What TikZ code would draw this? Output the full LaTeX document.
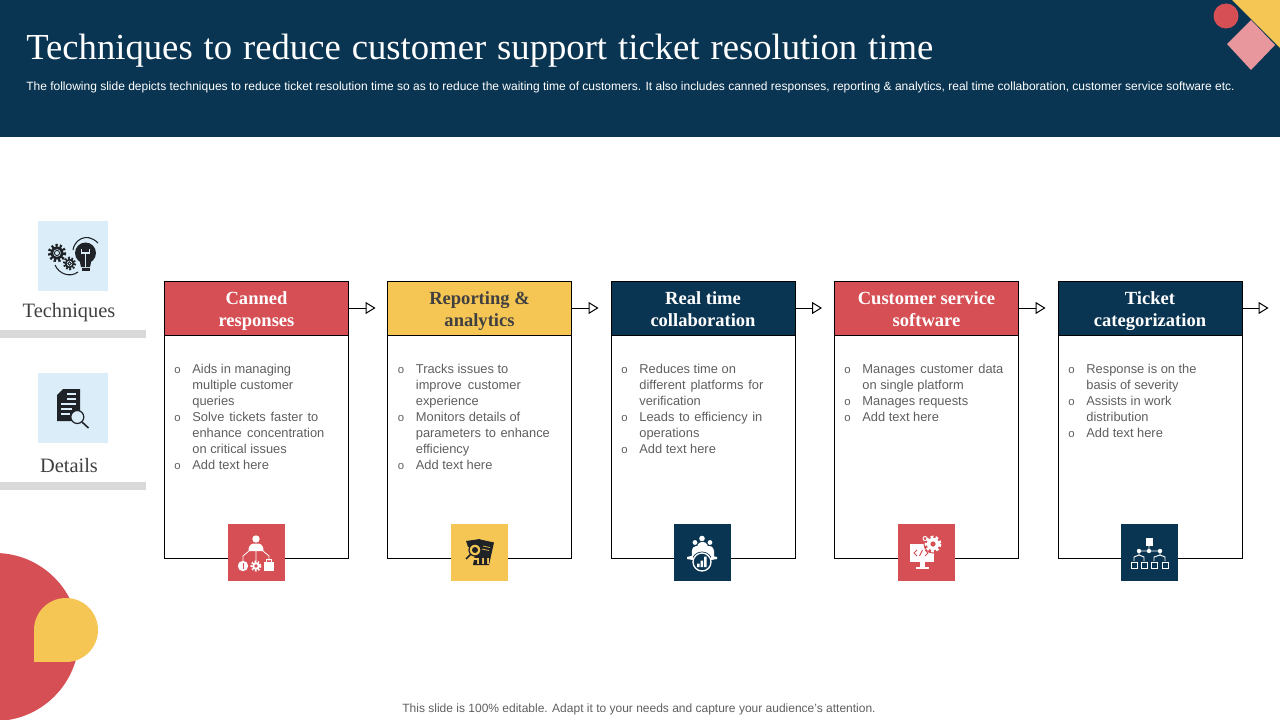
\documentclass[tikz,border=0pt]{standalone}
\usepackage{fontspec}
\setmainfont{Liberation Serif}
\setsansfont{Liberation Sans}
\usetikzlibrary{arrows.meta,positioning}
\definecolor{navy}{HTML}{0A3552}
\definecolor{cred}{HTML}{D64F55}
\definecolor{cyel}{HTML}{F6C655}
\definecolor{cpink}{HTML}{E8979D}
\definecolor{cblue}{HTML}{DAEDF9}
\definecolor{cbar}{HTML}{D9D9D9}
\definecolor{ctxt}{HTML}{5F5F5F}
\definecolor{cdark}{HTML}{404040}
\definecolor{cink}{HTML}{1F2328}
\newcommand\bitem[1]{\makebox[13.6pt][l]{\fontsize{8.5}{8.5}\selectfont o}#1\\}
\newcommand\bcont[1]{\hspace*{13.6pt}#1\\}
\newcommand\jl[2]{\makebox[\dimexpr #1pt*3/4\relax][s]{#2}}
\newcommand\twol[2]{\rule{0pt}{\dimexpr\ht\strutbox+4.5pt\relax}\strut #1\\\strut #2}
\tikzset{
  cardbox/.style={draw=black,line width=0.75pt,fill=white,minimum width=138pt,minimum height=207.75pt,anchor=north west,inner sep=0pt,outer sep=0pt},
  cardhead/.style={draw=black,line width=0.75pt,minimum width=138pt,minimum height=40.5pt,anchor=north west,inner sep=0pt,outer sep=0pt,text=white,align=center,font=\bfseries\fontsize{13.9}{16.5}\selectfont},
  bodytext/.style={anchor=north west,inner sep=0pt,align=left,text=ctxt,font=\sffamily\fontsize{9.65}{12}\selectfont},
  iconbox/.style={minimum size=42.75pt,inner sep=0pt,outer sep=0pt,anchor=center},
  sidebox/.style={fill=cblue,minimum width=52.5pt,minimum height=52.8pt,inner sep=0pt,outer sep=0pt,anchor=north west},
  sidelabel/.style={text=cdark,inner sep=0pt,font=\fontsize{15.3}{18}\selectfont},
  sidebar/.style={fill=cbar,minimum width=109.5pt,minimum height=6pt,inner sep=0pt,outer sep=0pt,anchor=north west},
  flow/.style={draw=black,line width=0.75pt,-{Triangle[open,length=7.5pt,width=9pt,fill=white]}}
}
\begin{document}
\begin{tikzpicture}[x=0.75pt,y=-0.75pt]
\useasboundingbox (0,0) rectangle (1280,720);
% header band
\fill[navy] (0,0) rectangle (1280,137);
\fill[cyel] (1232,0) -- (1280,48) -- (1280,0) -- cycle;
\fill[cpink] (1251,20) -- (1275,45) -- (1251,70) -- (1227,44) -- cycle;
\fill[cred] (1226,16) circle (12.5);
\node[anchor=west,inner sep=0pt,text=white,font=\fontsize{27.5}{32}\selectfont] (title) at (26,51) {\jl{907}{Techniques to reduce customer support ticket resolution time}};
\node[anchor=west,inner sep=0pt,text=white,font=\sffamily\fontsize{9}{11}\selectfont] (subtitle) at (26,87) {The following slide depicts techniques to reduce ticket resolution time so as to reduce the waiting time of customers. It also includes canned responses, reporting \& analytics, real time collaboration, customer service software etc.};
% bottom-left decoration
\begin{scope}
\clip (0,540) rectangle (120,720);
\fill[cred] (-5,637) circle (84);
\end{scope}
\fill[cyel] (66,630) circle (32);
\fill[cyel] (34,630) rectangle (66,662);
% side panel
\node[sidebox] (s1) at (38,221) {};
\node[sidelabel] (l1) at (69,313) {Techniques};
\node[sidebar] (b1) at (0,330) {};
\node[sidebox] (s2) at (38,373) {};
\node[sidelabel] (l2) at (69,465.5) {Details};
\node[sidebar] (b2) at (0,482) {};
% icon: gears and bulb
\begin{scope}[cink]
\fill (57,253) circle (6.5);
\draw[line width=2.4pt,dash pattern=on 1.6pt off 1.6pt] (57,253) circle (7.6);
\fill[cblue] (57,253) circle (3.8);
\draw[line width=.7pt] (57,253) circle (2.6);
\fill (69.5,263.5) circle (4.7);
\draw[line width=1.8pt,dash pattern=on 1.3pt off 1.3pt] (69.5,263.5) circle (5.6);
\fill[cblue] (69.5,263.5) circle (2.8);
\draw[line width=.7pt] (69.5,263.5) circle (1.8);
\fill (85.5,253) circle (10.5);
\fill (79,258) -- (92,258) -- (90,267) -- (81,267) -- cycle;
\fill (81.5,268) rectangle (89.5,271);
\draw[cblue,line width=1pt] (85.5,267) -- (85.5,254) (81.5,249) -- (81.5,253) -- (89.5,253) -- (89.5,249);
\draw[line width=.8pt] (73,250) .. controls (74,241) and (86,231) .. (98,243);
\draw[line width=.8pt] (55,265) .. controls (59,274) and (70,278) .. (78,272);
% icon: document and magnifier
\fill (63,389) -- (80,389) -- (80,421) -- (57,421) -- (57,395) -- cycle;
\draw[cblue,line width=1pt] (67,394) -- (76,394) (67,399) -- (76,399) (61,404) -- (76,404) (61,409) -- (72,409) (61,414) -- (70,414);
\fill[cblue] (77.3,417) circle (6.5);
\draw[line width=.9pt] (77.3,417) circle (6.5);
\draw[line width=1.2pt] (82,422) -- (88.5,428);
\end{scope}
% cards
\node[cardbox] (c1) at (164.5,281) {};
\node[cardbox] (c2) at (387.5,281) {};
\node[cardbox] (c3) at (611,281) {};
\node[cardbox] (c4) at (834.5,281) {};
\node[cardbox] (c5) at (1058,281) {};
\node[cardhead,fill=cred] (h1) at (164.5,281) {\twol{Canned}{responses}};
\node[cardhead,fill=cyel,text=cdark] (h2) at (387.5,281) {\twol{Reporting \&}{analytics}};
\node[cardhead,fill=navy] (h3) at (611,281) {\twol{Real time}{collaboration}};
\node[cardhead,fill=cred] (h4) at (834.5,281) {\twol{Customer service}{software}};
\node[cardhead,fill=navy] (h5) at (1058,281) {\twol{Ticket}{categorization}};
% connectors
\coordinate (e1) at (375.5,300);
\coordinate (e2) at (598.5,300);
\coordinate (e3) at (822,300);
\coordinate (e4) at (1045.5,300);
\coordinate (e5) at (1268.5,300);
\draw[flow] (h1.east) -- (h1.east -| e1);
\draw[flow] (h2.east) -- (h2.east -| e2);
\draw[flow] (h3.east) -- (h3.east -| e3);
\draw[flow] (h4.east) -- (h4.east -| e4);
\draw[flow] (h5.east) -- (h5.east -| e5);
% body text
\node[bodytext] (t1) at (174,363.5) {\bitem{Aids in managing}\bcont{multiple customer}\bcont{queries}\bitem{\jl{126}{Solve tickets faster to}}\bcont{\jl{132}{enhance concentration}}\bcont{on critical issues}\bitem{Add text here}};
\node[bodytext] (t2) at (397.5,363.5) {\bitem{Tracks issues to}\bcont{\jl{105}{improve customer}}\bcont{experience}\bitem{Monitors details of}\bcont{\jl{134}{parameters to enhance}}\bcont{efficiency}\bitem{Add text here}};
\node[bodytext] (t3) at (621,363.5) {\bitem{Reduces time on}\bcont{\jl{124}{different platforms for}}\bcont{verification}\bitem{\jl{123}{Leads to efficiency in}}\bcont{operations}\bitem{Add text here}};
\node[bodytext] (t4) at (844,363.5) {\bitem{\jl{141}{Manages customer data}}\bcont{on single platform}\bitem{Manages requests}\bitem{Add text here}};
\node[bodytext] (t5) at (1068,363.5) {\bitem{Response is on the}\bcont{basis of severity}\bitem{Assists in work}\bcont{distribution}\bitem{Add text here}};
% icon squares
\node[iconbox,fill=cred] (i1) at (256,552.5) {};
\node[iconbox,fill=cyel] (i2) at (479.5,552.5) {};
\node[iconbox,fill=navy] (i3) at (702.5,552.5) {};
\node[iconbox,fill=cred] (i4) at (926.5,552.5) {};
\node[iconbox,fill=navy] (i5) at (1149.5,552.5) {};
% icon 1: org chart with money, gear, case
\begin{scope}[white]
\fill (256,539) circle (3.7);
\fill (248.5,551) .. controls (248.5,544) and (252,543.5) .. (256,543.5) .. controls (260,543.5) and (263.5,544) .. (263.5,551) -- cycle;
\draw[line width=.6pt] (256,551) -- (256,561) (249,551) -- (243,556) -- (243,561) (263,551) -- (269,556) -- (269,561);
\fill (243,566) circle (5.2);
\fill (256,566) circle (3.8);
\draw[line width=1.6pt,dash pattern=on 1.2pt off 1.2pt] (256,566) circle (4.5);
\fill[cred] (256,566) circle (1.8);
\fill (264,561.5) rectangle (274,571);
\draw[cred,line width=.7pt] (243,563) -- (243,569);
\draw[line width=.6pt] (266.5,561.5) -- (266.5,559.5) -- (271.5,559.5) -- (271.5,561.5);
\end{scope}
% icon 2: report and chart
\begin{scope}[cink]
\fill (478,539) -- (494,542.5) -- (489,565) -- (473,565) -- cycle;
\fill (466,541) -- (480,539) -- (480,545) -- (468,547) -- cycle;
\fill[cyel] (475,550) circle (6);
\draw[line width=.9pt] (475,550) circle (6);
\fill (475,550) circle (3);
\draw[line width=1.2pt] (470.5,554.5) -- (466,559);
\fill[cyel] (474,558) rectangle (489,564);
\fill (474,564) rectangle (477,560) (479,564) rectangle (482,558) (484,564) rectangle (487,554);
\draw[cyel,line width=.5pt] (483,546) -- (490,547.5) (482,549) -- (489,550.5);
\end{scope}
% icon 3: team and performance
\begin{scope}[white]
\fill (702,538.5) circle (2.8);
\fill (695,542.5) circle (2.4);
\fill (710,542.5) circle (2.4);
\fill (696,554) .. controls (696,544) and (699,542) .. (702.5,542) .. controls (706,542) and (709,544) .. (709,554) -- cycle;
\fill (692,556) .. controls (691,547) and (694,546) .. (696,546) -- (709,546) .. controls (712,546) and (715,548) .. (714,556) -- cycle;
\fill[navy] (702,562) circle (10.5);
\draw[line width=1pt] (702,562) circle (9);
\fill (697,567) rectangle (699.5,563.5) (700.5,567) rectangle (703,560.5) (704,567) rectangle (706.5,556.5);
\fill (687,557) -- (693,555.5) -- (693,560) -- (687,559) -- cycle;
\fill (717,557) -- (711,555.5) -- (711,560) -- (717,559) -- cycle;
\end{scope}
% icon 4: monitor with code and gear
\begin{scope}[white]
\fill (910,544) rectangle (934,562);
\fill (920,562) rectangle (925,567);
\fill (916,567) rectangle (929,569);
\fill[cred] (933,544) circle (9.5);
\fill (933,544) circle (6.2);
\draw[line width=2pt,dash pattern=on 2pt off 1.8pt] (933,544) circle (7);
\fill[cred] (933,544) circle (2.6);
\draw[line width=.7pt] (925,538.5) circle (2);
\draw[cred,line width=.7pt] (917,550) -- (914,553) -- (917,556) (919.5,556) -- (922.5,550) (925,550) -- (928,553) -- (925,556);
\end{scope}
% icon 5: hierarchy
\begin{scope}[white]
\fill (1145.5,538) rectangle (1152.5,545.5);
\draw[line width=.7pt] (1149,545) -- (1149,551) (1139,551) -- (1160,551) (1139,551) -- (1139,555) -- (1134,557) -- (1134,561) (1139,555) -- (1144,557) -- (1144,561) (1160,551) -- (1160,555) -- (1154,557) -- (1154,561) (1160,555) -- (1165,557) -- (1165,561);
\fill (1139,551) circle (2.2) (1149,551) circle (2.2) (1160,551) circle (2.2);
\draw[line width=.7pt] (1131,562) rectangle (1137,568) (1141,562) rectangle (1147,568) (1151,562) rectangle (1157,568) (1162,562) rectangle (1168,568);
\end{scope}
% footer
\node[inner sep=0pt,text=ctxt,font=\sffamily\fontsize{9}{11}\selectfont] (foot) at (639,709) {This slide is 100\% editable. Adapt it to your needs and capture your audience's attention.};
\end{tikzpicture}
\end{document}
